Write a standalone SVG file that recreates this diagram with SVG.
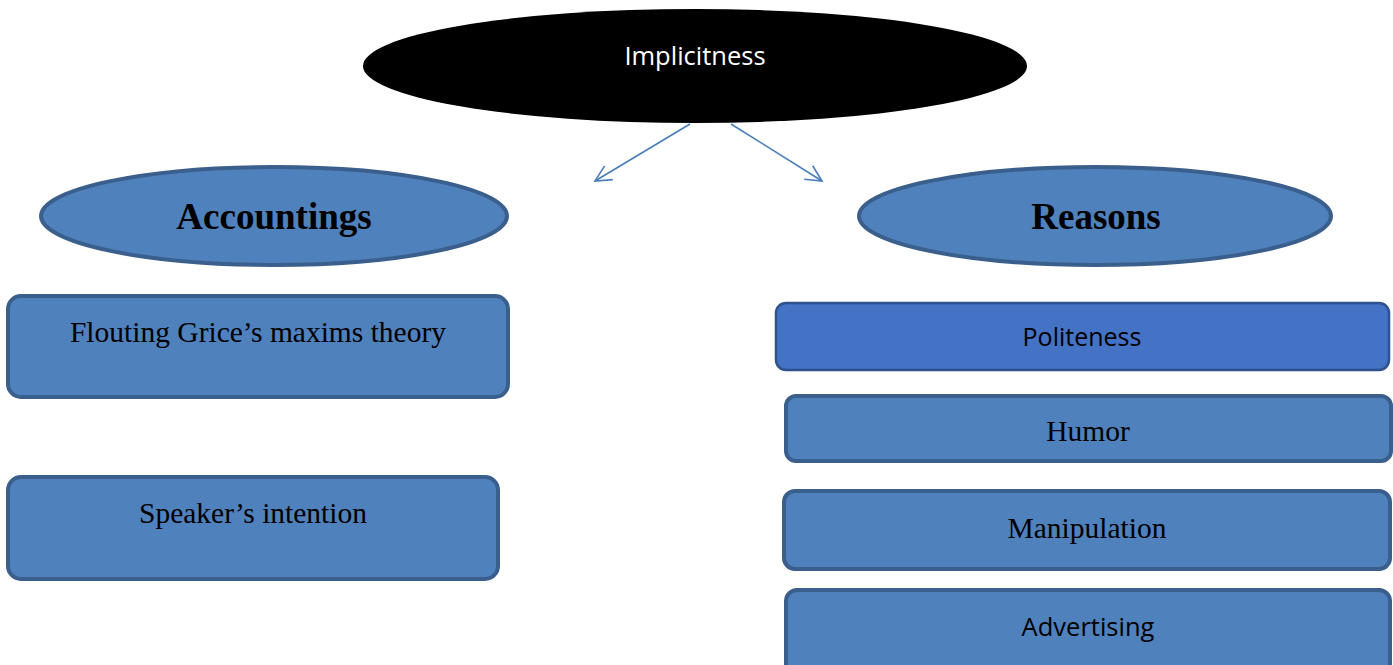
<svg xmlns="http://www.w3.org/2000/svg" width="1393" height="665" viewBox="0 0 1393 665">
<defs>
<style>
.blue{fill:#4f81bd;stroke:#3a5f8c;stroke-width:4}
.pol{fill:#4472c4;stroke:#2f528f;stroke-width:2.5}
.serif{font-family:"Liberation Serif","Times New Roman",serif;fill:#000;text-anchor:middle}
.sans{font-family:"Open Sans","Liberation Sans",sans-serif;text-anchor:middle}
.conn{stroke:#4a7ebb;stroke-width:1.6;fill:none}
</style>
<marker id="arr" viewBox="0 0 20 20" refX="18" refY="10" markerWidth="20" markerHeight="20" markerUnits="userSpaceOnUse" orient="auto">
<path d="M2,2 L18,10 L2,18" fill="none" stroke="#4a7ebb" stroke-width="1.6"/>
</marker>
</defs>
<rect width="1393" height="665" fill="#fff"/>
<g id="connectors">
<line class="conn" x1="690" y1="124" x2="595" y2="181" marker-end="url(#arr)"/>
<line class="conn" x1="731" y1="124" x2="822" y2="181" marker-end="url(#arr)"/>
</g>
<g id="implicitness">
<ellipse cx="695" cy="66" rx="332" ry="57" fill="#000"/>
<text class="sans" x="695" y="65" font-size="25.5" fill="#fff">Implicitness</text>
</g>
<g id="accountings">
<ellipse class="blue" cx="274" cy="216" rx="233" ry="49"/>
<text class="serif" x="274" y="229" font-size="37" font-weight="bold">Accountings</text>
</g>
<g id="reasons">
<ellipse class="blue" cx="1095" cy="216" rx="236" ry="49"/>
<text class="serif" x="1096" y="229" font-size="37" font-weight="bold">Reasons</text>
</g>
<g id="flouting">
<rect class="blue" x="8" y="296" width="500" height="101" rx="13"/>
<text class="serif" x="258" y="342" font-size="29.5">Flouting Grice’s maxims theory</text>
</g>
<g id="speaker">
<rect class="blue" x="8" y="477" width="490" height="102" rx="13"/>
<text class="serif" x="253" y="523" font-size="29.5">Speaker’s intention</text>
</g>
<g id="politeness">
<rect class="pol" x="776" y="303" width="613" height="67" rx="10"/>
<text class="sans" x="1082" y="346" font-size="25" fill="#000">Politeness</text>
</g>
<g id="humor">
<rect class="blue" x="786" y="396" width="605" height="65" rx="10"/>
<text class="serif" x="1088" y="441" font-size="29.5">Humor</text>
</g>
<g id="manipulation">
<rect class="blue" x="784" y="491" width="606" height="78" rx="11"/>
<text class="serif" x="1087" y="538" font-size="29.5">Manipulation</text>
</g>
<g id="advertising">
<rect class="blue" x="786" y="590" width="604" height="90" rx="11"/>
<text class="sans" x="1088" y="636" font-size="25.5" fill="#000">Advertising</text>
</g>
</svg>
